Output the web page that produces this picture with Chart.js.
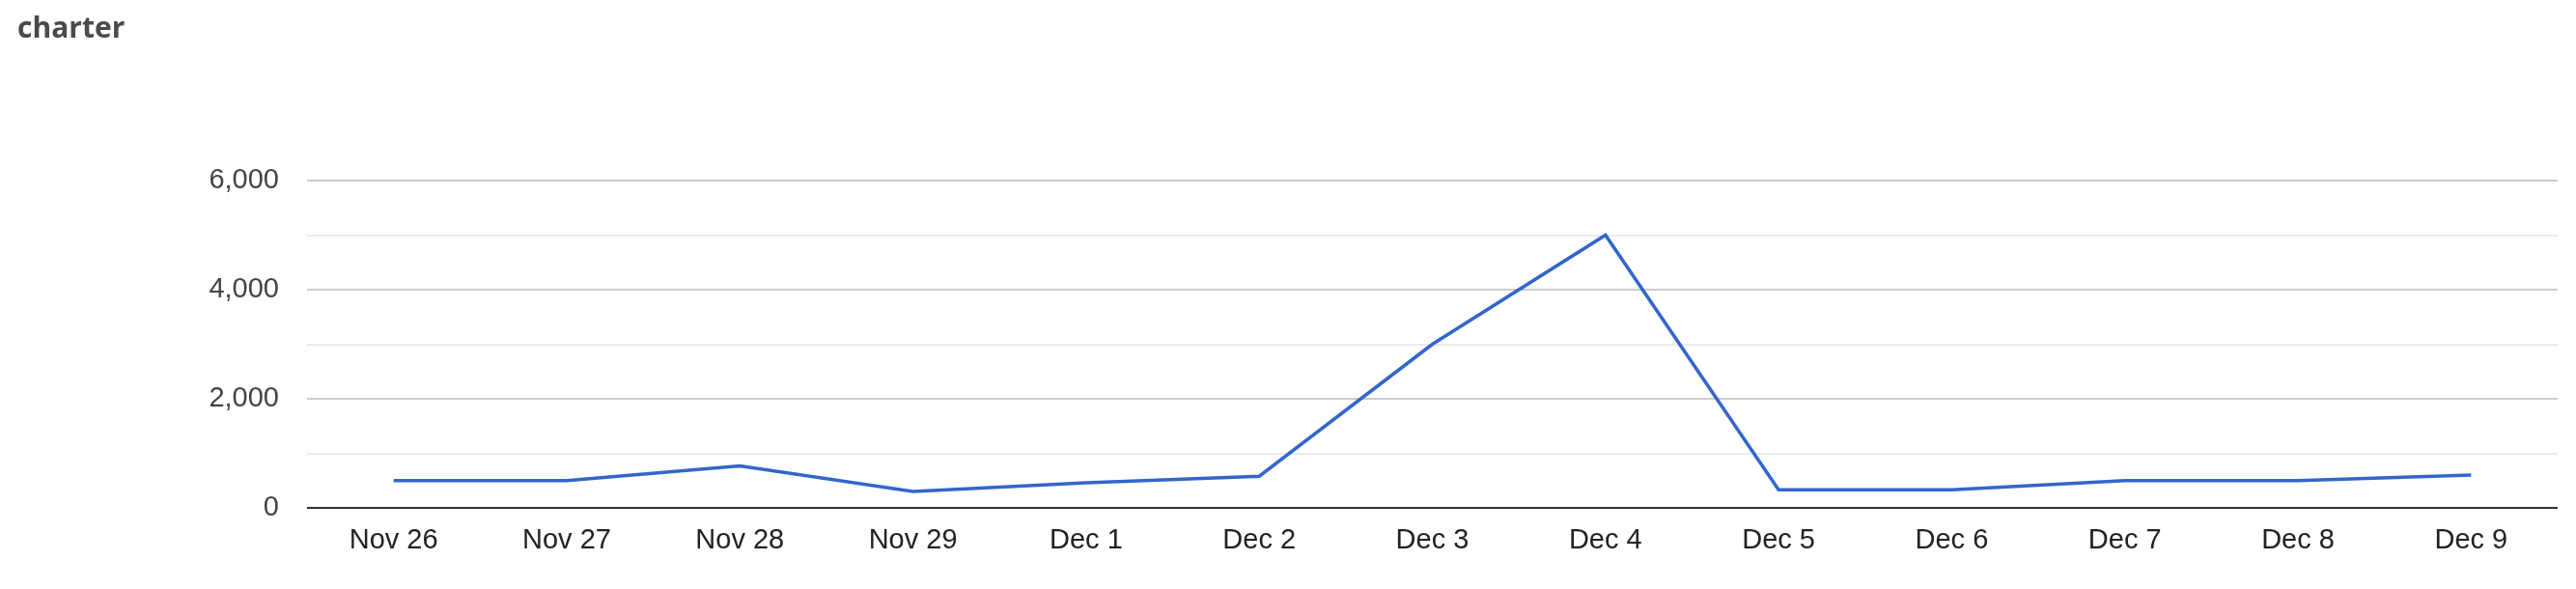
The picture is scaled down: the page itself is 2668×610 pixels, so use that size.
<!DOCTYPE html>
<html>
<head>
<meta charset="utf-8">
<script src="https://cdn.jsdelivr.net/npm/chart.js@4"></script>
<style>
html,body{margin:0;padding:0;background:#fff;}
#wrap{position:relative;width:2668px;height:610px;}
#title{position:absolute;left:18px;top:13px;font-family:'Open Sans',sans-serif;font-weight:700;font-size:30px;line-height:30px;color:#4a4a4a;white-space:nowrap;}
canvas{position:absolute;left:0;top:0;}
</style>
</head>
<body>
<div id="wrap"><canvas id="c" width="2668" height="610"></canvas><div id="title"></div></div>
<script>
const categories = ["Nov 26","Nov 27","Nov 28","Nov 29","Dec 1","Dec 2","Dec 3","Dec 4","Dec 5","Dec 6","Dec 7","Dec 8","Dec 9"];
const seriesValues = [500, 500, 770, 300, 460, 580, 3000, 5000, 330, 330, 500, 500, 600];
const yTicks = [0, 2000, 4000, 6000];
const titleText = "charter";

document.getElementById('title').textContent = titleText;

new Chart(document.getElementById('c'), {
  type: 'line',
  data: {
    labels: categories,
    datasets: [{
      data: seriesValues,
      borderColor: '#3366cc',
      backgroundColor: '#3366cc',
      borderWidth: 3.5,
      pointRadius: 0,
      tension: 0,
      fill: false
    }]
  },
  options: {
    responsive: false,
    devicePixelRatio: 1,
    animation: false,
    layout: { padding: { left: 18, right: 19, top: 187, bottom: 0 } },
    plugins: {
      legend: { display: false },
      tooltip: { enabled: false },
      title: { display: false }
    },
    scales: {
      x: {
        offset: true,
        grid: { display: false, drawTicks: false },
        border: { display: false },
        ticks: {
          color: '#222222',
          padding: 17,
          maxRotation: 0,
          autoSkip: false,
          font: { family: "Arial, 'Liberation Sans', sans-serif", size: 29 }
        },
        afterFit: (s) => { s.height = 84; }
      },
      y: {
        min: 0,
        max: 6000,
        grid: {
          drawTicks: false,
          color: (ctx) => ctx.tick.value === 0 ? '#333333' : (yTicks.includes(ctx.tick.value) ? '#cccccc' : '#ebebeb'),
          lineWidth: 2
        },
        border: { display: false },
        ticks: {
          stepSize: 1000,
          padding: 29,
          color: '#444444',
          font: { family: "Arial, 'Liberation Sans', sans-serif", size: 29 },
          callback: (v) => yTicks.includes(v) ? v.toLocaleString('en-US') : ''
        },
        afterFit: (s) => { s.width = 300; }
      }
    }
  }
});
</script>
</body>
</html>
